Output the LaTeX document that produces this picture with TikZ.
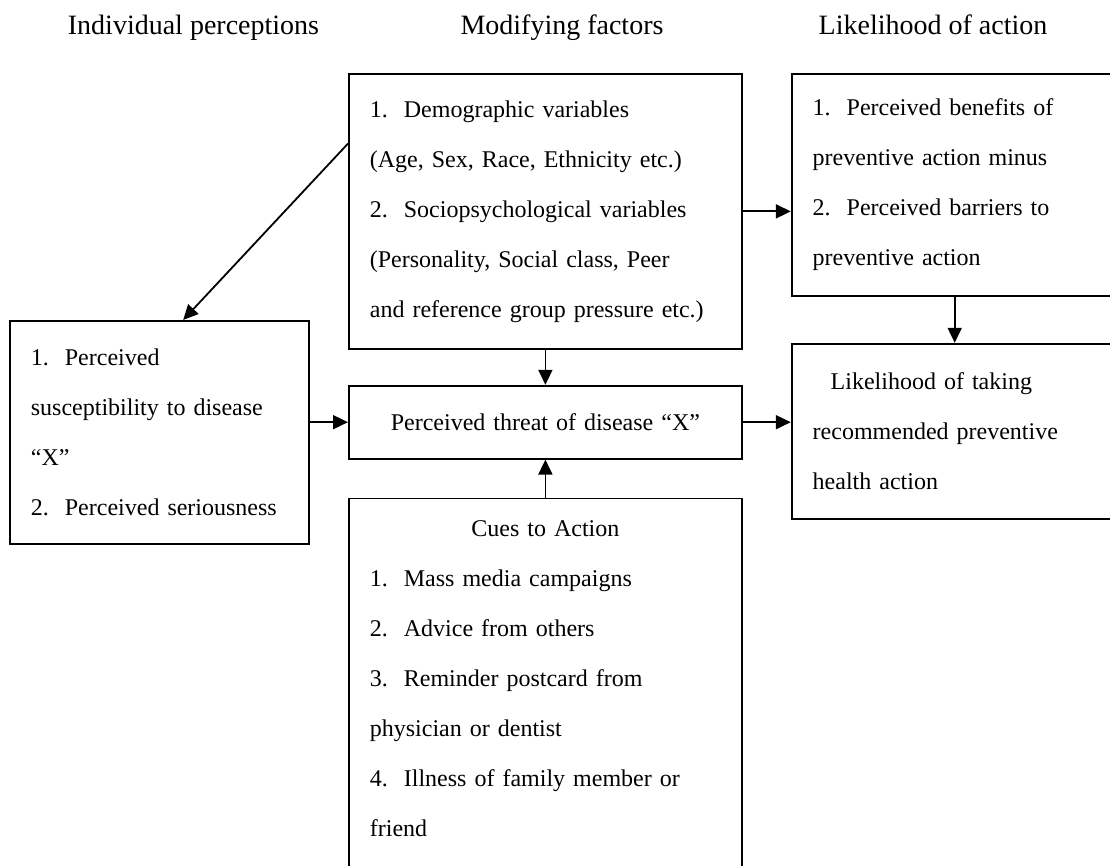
\documentclass[tikz,border=0pt]{standalone}
\usepackage{fontspec}
\setmainfont{Liberation Serif}
\usetikzlibrary{arrows.meta,positioning,calc}

\begin{document}
\begin{tikzpicture}
\tikzstyle{block} = [rectangle, draw, line width=0.9pt, inner xsep=10.5pt, inner ysep=0pt, align=left, font=\fontsize{12}{25}\selectfont]
\tikzstyle{heading} = [font=\fontsize{14}{16}\selectfont, anchor=base]
\tikzstyle{line} = [draw, line width=0.9pt, -{Triangle[length=7.5pt,width=7pt]}]

\useasboundingbox (0,0) rectangle (555pt,-433pt);

% Column headings
\node [heading] (headPerceptions) at (96.75pt,-17.5pt) {Individual perceptions};
\node [heading] (headModifying) at (281pt,-17.5pt) {Modifying factors};
\node [heading] (headLikelihood) at (466.5pt,-17.5pt) {Likelihood of action};

% Blocks
\node [block, text width=175.5pt, minimum height=137.5pt, anchor=north west] (modifyingFactors) at (174pt,-36.5pt) {
    1.\ \ Demographic variables\\
    (Age, Sex, Race, Ethnicity etc.)\\
    2.\ \ Sociopsychological variables\\
    (Personality, Social class, Peer\\
    and reference group pressure etc.)};

\node [block, text width=142pt, minimum height=111pt, right=24pt of modifyingFactors.north east, anchor=north west] (perceivedBenefits) {
    1.\ \ Perceived benefits of\\
    preventive action minus\\
    2.\ \ Perceived barriers to\\
    preventive action};

\node [block, text width=128.5pt, minimum height=111.5pt, anchor=north west] (individualPerceptions) at (4.5pt,-160pt) {
    1.\ \ Perceived\\
    susceptibility to disease\\
    ``X''\\
    2.\ \ Perceived seriousness};

\node [block, text width=175.5pt, minimum height=36.5pt, align=center, below=17.5pt of modifyingFactors] (perceivedThreat) {Perceived threat of disease ``X''};

\node [block, text width=175.5pt, inner ysep=11pt, text depth=170pt, below=19pt of perceivedThreat] (cuesToAction) {
    \makebox[\linewidth]{Cues to Action}\\
    1.\ \ Mass media campaigns\\
    2.\ \ Advice from others\\
    3.\ \ Reminder postcard from\\
    physician or dentist\\
    4.\ \ Illness of family member or\\
    friend};

\node [block, text width=142pt, minimum height=87.5pt, below=23pt of perceivedBenefits] (likelihoodAction) {
    \hspace*{9pt}Likelihood of taking\\
    recommended preventive\\
    health action};

% Connections
\draw [line] ($(modifyingFactors.north west)!0.255!(modifyingFactors.south west)$) -- ($(individualPerceptions.north west)!0.579!(individualPerceptions.north east)$);
\draw [line] (modifyingFactors) -- (perceivedThreat);
\draw [line] (modifyingFactors.east) -- (modifyingFactors.east -| perceivedBenefits.west);
\draw [line] (perceivedBenefits) -- (likelihoodAction);
\draw [line] (individualPerceptions.east |- perceivedThreat) -- (perceivedThreat);
\draw [line] (perceivedThreat) -- (perceivedThreat -| likelihoodAction.west);
\draw [line] (cuesToAction) -- (perceivedThreat);

\end{tikzpicture}
\end{document}
